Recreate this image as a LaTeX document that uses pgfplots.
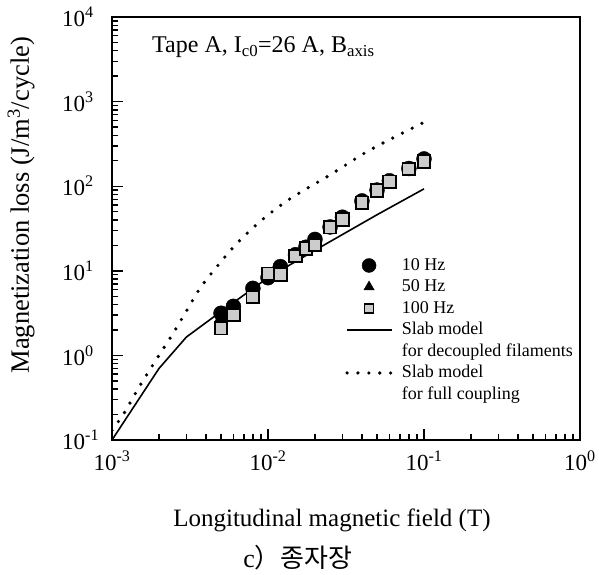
\documentclass[border=0pt]{standalone}
\usepackage{fontspec}
\setmainfont{Liberation Serif}
\newfontfamily\cjk{Noto Sans CJK KR}
\usepackage{pgfplots}
\pgfplotsset{compat=1.18}

\pgfplotsset{
  marklegend/.style={legend image code/.code={\draw[##1,mark size=#1] plot coordinates {(22pt,0pt)};}},
  linelegend/.style={legend image code/.code={\draw[##1] (0pt,0pt) -- (45pt,0pt);}},
}

\begin{document}
\begin{tikzpicture}
\begin{axis}[
  at={(0pt,0pt)}, anchor=south west,
  scale only axis, width=468pt, height=423pt,
  xmode=log, ymode=log,
  xmin=1e-3, xmax=1, ymin=1e-1, ymax=1e4,
  axis on top,
  xtick={1e-3,1e-2,1e-1,1},
  xticklabels={10\textsuperscript{-3},10\textsuperscript{-2},10\textsuperscript{-1},10\textsuperscript{0}},
  minor xtick={0.002,0.003,0.004,0.005,0.006,0.007,0.008,0.009,
    0.02,0.03,0.04,0.05,0.06,0.07,0.08,0.09,0.2,0.3,0.4,0.5,0.6,0.7,0.8,0.9},
  ytick={1e-1,1,1e1,1e2,1e3,1e4},
  yticklabels={10\textsuperscript{-1},10\textsuperscript{0},10\textsuperscript{1},10\textsuperscript{2},10\textsuperscript{3},10\textsuperscript{4}},
  minor ytick={0.2,0.3,0.4,0.5,0.6,0.7,0.8,0.9,2,3,4,5,6,7,8,9,
    20,30,40,50,60,70,80,90,200,300,400,500,600,700,800,900,
    2000,3000,4000,5000,6000,7000,8000,9000},
  xtick pos=bottom, ytick pos=left, tick align=inside,
  major tick length=11pt, minor tick length=6pt,
  axis line style={line width=1.6pt},
  every tick/.append style={draw=black, solid, line width=1.4pt},
  ticklabel style={font=\fontsize{23}{25}\selectfont, inner sep=0pt},
  yticklabel style={anchor=west, xshift=-50pt},
  xticklabel style={yshift=-11pt},
  xlabel={Longitudinal magnetic field (T)},
  ylabel={Magnetization loss (J/m\textsuperscript{3}/cycle)},
  label style={font=\fontsize{25}{28}\selectfont},
  xlabel style={at={(axis description cs:0.47,-0.189)}, anchor=center},
  ylabel style={at={(axis description cs:-0.194,0.555)}, anchor=center, font=\fontsize{26.5}{28}\selectfont},
  legend style={at={(rel axis cs:0.498,0.4385)}, anchor=north west, draw=none, fill=none,
    inner sep=0pt, row sep=0pt, font=\fontsize{18}{21}\selectfont,
    nodes={inner xsep=0pt, inner ysep=1.75pt, text height=14pt, text depth=4pt},
    /tikz/every odd column/.append style={column sep=8pt}},
  legend cell align=left,
]
% 10 Hz
\addplot[only marks, mark=*, mark size=7.5pt, black, marklegend=7pt] coordinates {
(0.005,3.15) (0.006,3.8) (0.008,6.2) (0.01,8.3) (0.012,11.2) (0.015,15.5) (0.0175,19)
(0.02,23.5) (0.025,33) (0.03,43) (0.04,67) (0.05,90) (0.06,116) (0.08,162) (0.1,210)};
% 50 Hz
\addplot[only marks, mark=triangle*, mark size=7pt, black, marklegend=6pt] coordinates {
(0.005,2.8) (0.006,3.5) (0.008,5.7) (0.01,8.6) (0.012,10.2) (0.015,15) (0.0175,18.5)
(0.02,21.5) (0.025,32.5) (0.03,41.5) (0.04,65) (0.05,89) (0.06,114) (0.08,160) (0.1,200)};
% 100 Hz
\addplot[only marks, mark=square*, mark size=6.3pt, mark options={draw=black, fill=gray!40, line width=1.8pt}, marklegend=4.5pt] coordinates {
(0.005,2.1) (0.006,3.0) (0.008,4.9) (0.01,9.2) (0.012,9.0) (0.015,15.0) (0.0175,18.4)
(0.02,20.2) (0.025,32.7) (0.03,40.6) (0.04,63.8) (0.05,88.5) (0.06,113) (0.08,160) (0.1,195)};
% slab model, decoupled filaments
\addplot[black, line width=1.6pt, linelegend] coordinates {
(0.001,0.1) (0.002,0.70) (0.003,1.65) (0.005,3.3) (0.01,8.3) (0.02,17.5) (0.05,46) (0.1,93)};
\addlegendimage{empty legend}
% slab model, full coupling
\addplot[black, line width=3.6pt, line cap=round, dash pattern=on 0pt off 10.9pt, linelegend, smooth] coordinates {
(0.001,0.13) (0.0012,0.21) (0.0015,0.43) (0.002,1.0) (0.0025,1.9) (0.003,3.35) (0.0038,6.8)
(0.006,19) (0.009,39) (0.014,72) (0.025,136) (0.045,268) (0.1,570)};
\addlegendimage{empty legend}
\legend{10 Hz, 50 Hz, 100 Hz, Slab model, for decoupled filaments, Slab model, for full coupling}
\node[anchor=west, inner sep=0pt, font=\fontsize{24}{26}\selectfont] at (axis description cs:0.0855,0.929)
  {Tape A, I\textsubscript{c0}=26 A, B\textsubscript{axis}};
\end{axis}
\node[font=\fontsize{26}{28}\selectfont, inner sep=0pt] at (186pt,-118pt) {c{\cjk ）종자장}};
\path (-112pt,-134pt) rectangle (487pt,440pt);
\end{tikzpicture}
\end{document}
